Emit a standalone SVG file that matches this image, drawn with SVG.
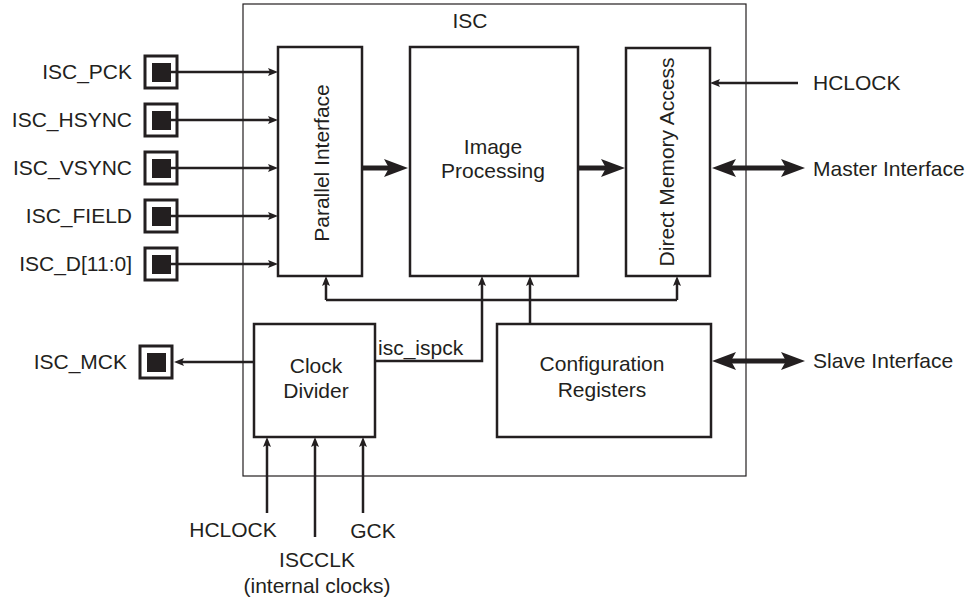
<svg xmlns="http://www.w3.org/2000/svg" width="969" height="599" viewBox="0 0 969 599">
<style>
text{font-family:"Liberation Sans",Arial,sans-serif;font-size:21px;fill:#231f20}
.box{fill:#fff;stroke:#231f20;stroke-width:2.5}
.outer{fill:none;stroke:#231f20;stroke-width:1.2}
.pin{fill:#fff;stroke:#231f20;stroke-width:3}
.pinc{fill:#231f20}
.thin{fill:none;stroke:#231f20;stroke-width:2.5}
.thick{fill:none;stroke:#231f20;stroke-width:5}
.m{text-anchor:middle}
.e{text-anchor:end}
</style>
<defs>
<marker id="a" markerUnits="userSpaceOnUse" markerWidth="10" markerHeight="8" refX="2" refY="4" orient="auto-start-reverse">
<path d="M0,0 L10,4 L0,8 L2,4 z" fill="#231f20"/>
</marker>
<marker id="b" markerUnits="userSpaceOnUse" markerWidth="24" markerHeight="18" refX="5" refY="9" orient="auto-start-reverse">
<path d="M0,0 L24,9 L0,18 L5,9 z" fill="#231f20"/>
</marker>
</defs>

<g id="isc">
<rect class="outer" x="243" y="4" width="503" height="472"/>
<text class="m" x="470" y="28">ISC</text>
</g>

<g id="parallel-interface">
<rect class="box" x="278" y="47" width="84" height="229"/>
<text class="m" transform="translate(329,163) rotate(-90)">Parallel Interface</text>
</g>

<g id="image-processing">
<rect class="box" x="410" y="47" width="168" height="229"/>
<text class="m" x="493" y="154">Image</text>
<text class="m" x="493" y="178">Processing</text>
</g>

<g id="dma">
<rect class="box" x="626" y="48" width="84" height="228"/>
<text class="m" transform="translate(674,162) rotate(-90)">Direct Memory Access</text>
</g>

<g id="clock-divider">
<rect class="box" x="254" y="324" width="121" height="113"/>
<text class="m" x="316" y="373">Clock</text>
<text class="m" x="316" y="398">Divider</text>
</g>

<g id="config-registers">
<rect class="box" x="497" y="324" width="214" height="113"/>
<text class="m" x="602" y="371">Configuration</text>
<text class="m" x="602" y="397">Registers</text>
</g>

<g id="pin-pck">
<rect class="pin" x="145" y="56" width="32" height="32"/>
<rect class="pinc" x="152" y="63" width="19" height="19"/>
<text class="e" x="132" y="79">ISC_PCK</text>
</g>
<g id="pin-hsync">
<rect class="pin" x="145" y="104" width="32" height="32"/>
<rect class="pinc" x="152" y="111" width="19" height="19"/>
<text class="e" x="132" y="127">ISC_HSYNC</text>
</g>
<g id="pin-vsync">
<rect class="pin" x="145" y="152" width="32" height="32"/>
<rect class="pinc" x="152" y="159" width="19" height="19"/>
<text class="e" x="132" y="175">ISC_VSYNC</text>
</g>
<g id="pin-field">
<rect class="pin" x="145" y="200" width="32" height="32"/>
<rect class="pinc" x="152" y="207" width="19" height="19"/>
<text class="e" x="132" y="223">ISC_FIELD</text>
</g>
<g id="pin-d">
<rect class="pin" x="145" y="248" width="32" height="32"/>
<rect class="pinc" x="152" y="255" width="19" height="19"/>
<text class="e" x="132" y="271">ISC_D[11:0]</text>
</g>
<g id="pin-mck">
<rect class="pin" x="140" y="346" width="32" height="32"/>
<rect class="pinc" x="147" y="353" width="19" height="19"/>
<text class="e" x="127" y="369">ISC_MCK</text>
</g>

<g id="ext-hclock">
<text x="813" y="90">HCLOCK</text>
</g>
<g id="ext-master">
<text x="813" y="176">Master Interface</text>
</g>
<g id="ext-slave">
<text x="813" y="368">Slave Interface</text>
</g>
<g id="ext-clocks">
<text class="m" x="233" y="537">HCLOCK</text>
<text class="m" x="373" y="538">GCK</text>
<text class="m" x="317" y="567">ISCCLK</text>
<text class="m" x="317" y="593">(internal clocks)</text>
</g>

<g id="connectors">
<path class="thin" d="M171,72 H270" marker-end="url(#a)"/>
<path class="thin" d="M171,120 H270" marker-end="url(#a)"/>
<path class="thin" d="M171,168 H270" marker-end="url(#a)"/>
<path class="thin" d="M171,216 H270" marker-end="url(#a)"/>
<path class="thin" d="M171,264 H270" marker-end="url(#a)"/>
<path class="thin" d="M254,362 H182" marker-end="url(#a)"/>
<path class="thick" d="M362,168 H389" marker-end="url(#b)"/>
<path class="thick" d="M578,168 H606" marker-end="url(#b)"/>
<path class="thick" d="M731,168 H786" marker-start="url(#b)" marker-end="url(#b)"/>
<path class="thick" d="M731,361 H786" marker-start="url(#b)" marker-end="url(#b)"/>
<path class="thin" d="M798,83 H718" marker-end="url(#a)"/>
<path class="thin" d="M326,300 H677"/>
<path class="thin" d="M326,300 V284" marker-end="url(#a)"/>
<path class="thin" d="M677,300 V284" marker-end="url(#a)"/>
<path class="thin" d="M530,324 V284" marker-end="url(#a)"/>
<path class="thin" d="M375,361 H482 V284" marker-end="url(#a)"/>
<text x="378" y="355">isc_ispck</text>
<path class="thin" d="M267,513 V445" marker-end="url(#a)"/>
<path class="thin" d="M315,537 V445" marker-end="url(#a)"/>
<path class="thin" d="M363,513 V445" marker-end="url(#a)"/>
</g>
</svg>
